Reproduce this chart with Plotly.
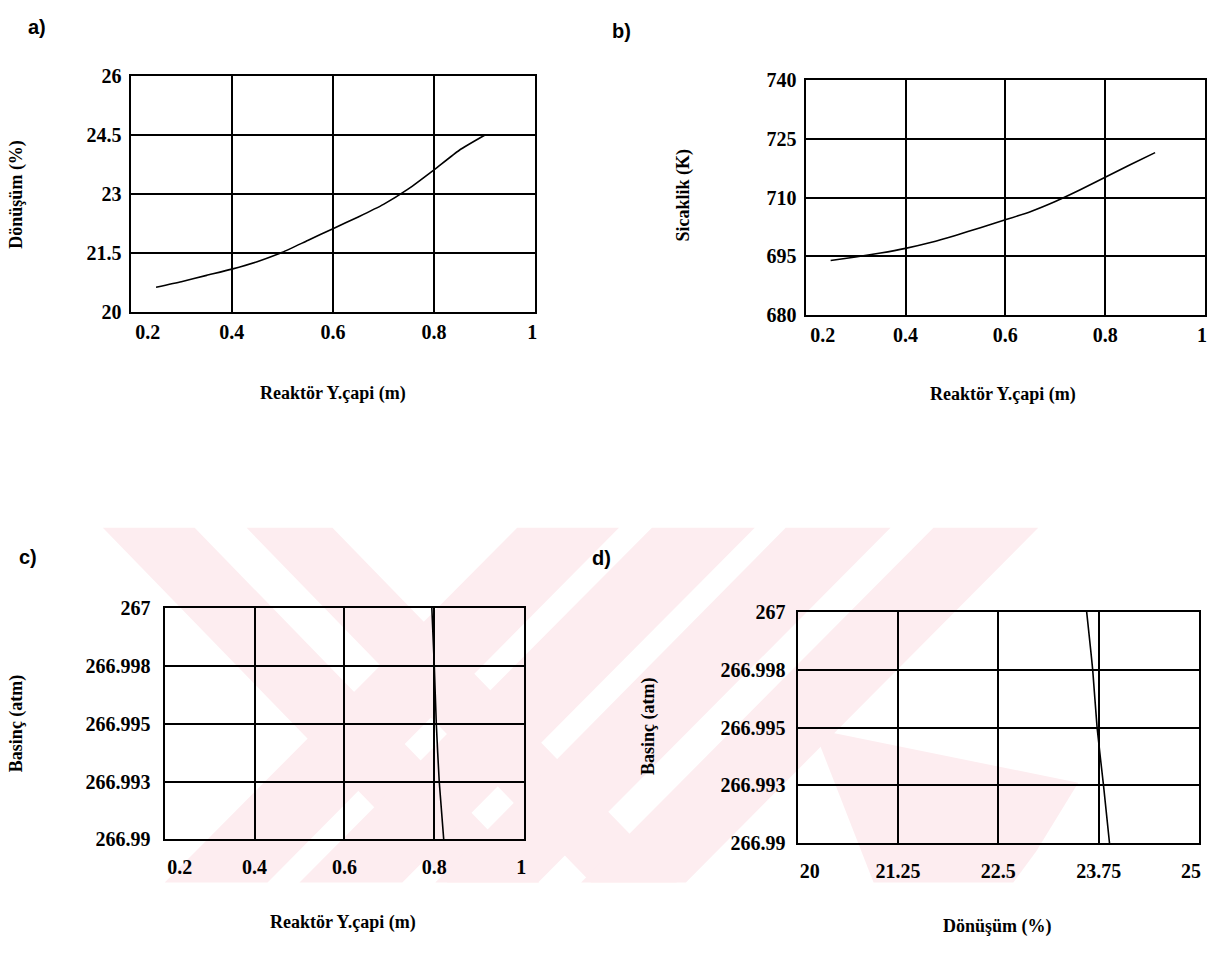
import plotly.graph_objects as go

W, H = 1220, 953

# ---------------- data ----------------
diam_a = [0.25, 0.30, 0.35, 0.40, 0.45, 0.50, 0.55, 0.60, 0.65, 0.70, 0.75, 0.80, 0.85, 0.90]
conv_a = [20.63, 20.77, 20.93, 21.09, 21.28, 21.52, 21.82, 22.12, 22.42, 22.74, 23.14, 23.62, 24.12, 24.50]

diam_b = [0.25, 0.30, 0.35, 0.40, 0.45, 0.50, 0.55, 0.60, 0.65, 0.70, 0.75, 0.80, 0.85, 0.90]
temp_b = [693.9, 694.8, 695.8, 697.0, 698.5, 700.3, 702.3, 704.3, 706.4, 709.0, 712.0, 715.2, 718.4, 721.5]

diam_c = [0.7945, 0.800, 0.8045, 0.811, 0.821]
pres_c = [267.0, 266.9975, 266.995, 266.9925, 266.99]

conv_d = [23.60, 23.675, 23.73, 23.81, 23.885]
pres_d = [267.0, 266.9975, 266.995, 266.9925, 266.99]

x_ticks_diam = [0.2, 0.4, 0.6, 0.8, 1.0]
x_text_diam = ["0.2", "0.4", "0.6", "0.8", "1"]
y_ticks_a = [20, 21.5, 23, 24.5, 26]
y_text_a = ["20", "21.5", "23", "24.5", "26"]
y_ticks_b = [680, 695, 710, 725, 740]
y_text_b = ["680", "695", "710", "725", "740"]
y_ticks_p = [266.99, 266.9925, 266.995, 266.9975, 267.0]
y_text_p = ["266.99", "266.993", "266.995", "266.998", "267"]
x_ticks_d = [20, 21.25, 22.5, 23.75, 25]
x_text_d = ["20", "21.25", "22.5", "23.75", "25"]

# ---------------- helpers ----------------
def px(x):
    return x / W

def py(y):
    return 1 - y / H

SERIF = "Liberation Serif"
SANS = "Liberation Sans"
LW = 2.4

def tf(size):
    return dict(family=SERIF, size=size, color="black", weight="bold")

def xaxis(dom, anchor, rng, tv, tt, fs, so):
    # first and last labels are drawn by companion axes (shifted inward)
    tt_mid = [""] + tt[1:-1] + [""]
    return dict(domain=[px(dom[0]), px(dom[1])], anchor=anchor, range=rng,
                tickvals=tv, ticktext=tt_mid, showgrid=True, gridcolor="black", gridwidth=1.8,
                showline=True, mirror=True, linecolor="black", linewidth=LW,
                ticks="", tickfont=tf(fs), zeroline=False, ticklabelstandoff=so)

def edge_axis(base, anchor, rng, val, text, fs, so, shift):
    return dict(overlaying=base, anchor=anchor, range=rng, side="bottom",
                tickvals=[val], ticktext=[text], showgrid=False,
                showline=True, linecolor="rgba(0,0,0,0)", linewidth=LW,
                ticks="", tickfont=tf(fs), zeroline=False, ticklabelstandoff=so,
                ticklabelshift=shift)

def yaxis(dom, anchor, rng, tv, tt, fs, so):
    return dict(domain=[py(dom[1]), py(dom[0])], anchor=anchor, range=rng,
                tickvals=tv, ticktext=tt, showgrid=True, gridcolor="black", gridwidth=1.8,
                showline=True, mirror=True, linecolor="black", linewidth=LW,
                ticks="", tickfont=tf(fs), zeroline=False, ticklabelstandoff=so)

fig = go.Figure()
line = dict(color="black", width=1.6, shape="spline", smoothing=0.5)
fig.add_trace(go.Scatter(x=diam_a, y=conv_a, mode="lines", line=line, xaxis="x", yaxis="y", showlegend=False))
fig.add_trace(go.Scatter(x=diam_b, y=temp_b, mode="lines", line=line, xaxis="x2", yaxis="y2", showlegend=False))
fig.add_trace(go.Scatter(x=diam_c, y=pres_c, mode="lines", line=line, xaxis="x3", yaxis="y3", showlegend=False))
fig.add_trace(go.Scatter(x=conv_d, y=pres_d, mode="lines", line=line, xaxis="x4", yaxis="y4", showlegend=False))

# invisible helper traces so the companion label axes are drawn
helpers = [("x5", "y", diam_a, conv_a), ("x6", "y", diam_a, conv_a),
           ("x7", "y2", diam_b, temp_b), ("x8", "y2", diam_b, temp_b),
           ("x9", "y3", diam_c, pres_c), ("x10", "y3", diam_c, pres_c),
           ("x11", "y4", conv_d, pres_d), ("x12", "y4", conv_d, pres_d)]
for xa, ya, xs, ys in helpers:
    fig.add_trace(go.Scatter(x=xs, y=ys, mode="lines", line=dict(width=0, color="rgba(0,0,0,0)"),
                             xaxis=xa, yaxis=ya, showlegend=False, hoverinfo="skip"))

# ---------------- watermark (decorative stripes) ----------------
PINK = "#fdedf0"
TOP, BOT = 529, 892
stripes = [
    # "\" stripes: (top-left, top-right, bottom-left, bottom-right)
    (103, 195, 448, 540),
    (247, 333, 592, 678),
    # "/" stripes
    (518, 620, 165, 268),
    (653, 756, 300, 403),
    (787, 892, 436, 539),
    (935, 1040, 582, 687),
]
shapes = []
for tl, tr, bl, br in stripes:
    path = (f"M {px(tl)},{py(TOP)} L {px(tr)},{py(TOP)} "
            f"L {px(br)},{py(BOT)} L {px(bl)},{py(BOT)} Z")
    shapes.append(dict(type="path", path=path, xref="paper", yref="paper",
                       fillcolor=PINK, line=dict(width=0), layer="below"))
# lower-right wedge
wedge = [(815, 735), (1080, 790), (1038, 860), (1015, 892), (875, 892)]
path = "M " + " L ".join(f"{px(a)},{py(b)}" for a, b in wedge) + " Z"
shapes.append(dict(type="path", path=path, xref="paper", yref="paper",
                   fillcolor=PINK, line=dict(width=0), layer="below"))

# ---------------- annotations ----------------
ann = []
def label(x, y, text, size=20, family=SANS):
    ann.append(dict(x=px(x), y=py(y), xref="paper", yref="paper", text=text, showarrow=False,
                    font=dict(family=family, size=size, color="black", weight="bold"),
                    xanchor="center", yanchor="middle"))

def title(x, y, text, angle=0, size=18):
    ann.append(dict(x=px(x), y=py(y), xref="paper", yref="paper", text=text, showarrow=False,
                    textangle=angle, font=dict(family=SERIF, size=size, color="black", weight="bold"),
                    xanchor="center", yanchor="middle"))

label(37, 16, "a)")
label(623, 20, "b)")
label(28, 559, "c)")
label(602, 560, "d)")

title(334, 392, "Reaktör Y.çapi (m)")
title(17, 187, "Dönüşüm (%)", -90)
title(1005, 393, "Reaktör Y.çapi (m)")
title(685, 188, "Sicaklik (K)", -90)
title(344, 933, "Reaktör Y.çapi (m)")
title(16, 729, "Basinç (atm)", -90)
title(999, 937, "Dönüşüm (%)")
title(649, 732, "Basinç (atm)", -90)

F = 20
SA, SC = 1, 8
YA, YC = 3, 8
fig.update_layout(
    width=W, height=H, margin=dict(l=0, r=0, t=0, b=0),
    paper_bgcolor="white", plot_bgcolor="rgba(0,0,0,0)",
    xaxis=xaxis((131, 536), "y", [0.2, 1.0], x_ticks_diam, x_text_diam, F, SA),
    yaxis=yaxis((67, 308), "x", [20, 26], y_ticks_a, y_text_a, F, YA),
    xaxis2=xaxis((807, 1207), "y2", [0.2, 1.0], x_ticks_diam, x_text_diam, F, SA),
    yaxis2=yaxis((71, 311), "x2", [680, 740], y_ticks_b, y_text_b, F, YA),
    xaxis3=xaxis((165, 525), "y3", [0.2, 1.0], x_ticks_diam, x_text_diam, F, SC),
    yaxis3=yaxis((611, 848), "x3", [266.99, 267.0], y_ticks_p, y_text_p, F, YC),
    xaxis4=xaxis((799, 1201), "y4", [20, 25], x_ticks_d, x_text_d, F, SC),
    yaxis4=yaxis((615, 852), "x4", [266.99, 267.0], y_ticks_p, y_text_p, F, 6),
    # companion axes carrying the first / last tick labels, shifted inward
    xaxis5=edge_axis("x", "y", [0.2, 1.0], x_ticks_diam[0], x_text_diam[0], F, SA, 17),
    xaxis6=edge_axis("x", "y", [0.2, 1.0], x_ticks_diam[-1], x_text_diam[-1], F, SA, -3),
    xaxis7=edge_axis("x2", "y2", [0.2, 1.0], x_ticks_diam[0], x_text_diam[0], F, SA, 17),
    xaxis8=edge_axis("x2", "y2", [0.2, 1.0], x_ticks_diam[-1], x_text_diam[-1], F, SA, -3),
    xaxis9=edge_axis("x3", "y3", [0.2, 1.0], x_ticks_diam[0], x_text_diam[0], F, SC, 15),
    xaxis10=edge_axis("x3", "y3", [0.2, 1.0], x_ticks_diam[-1], x_text_diam[-1], F, SC, -3),
    xaxis11=edge_axis("x4", "y4", [20, 25], x_ticks_d[0], x_text_d[0], F, SC, 12),
    xaxis12=edge_axis("x4", "y4", [20, 25], x_ticks_d[-1], x_text_d[-1], F, SC, -8),
    shapes=shapes, annotations=ann,
)

fig.write_html("out.html")
